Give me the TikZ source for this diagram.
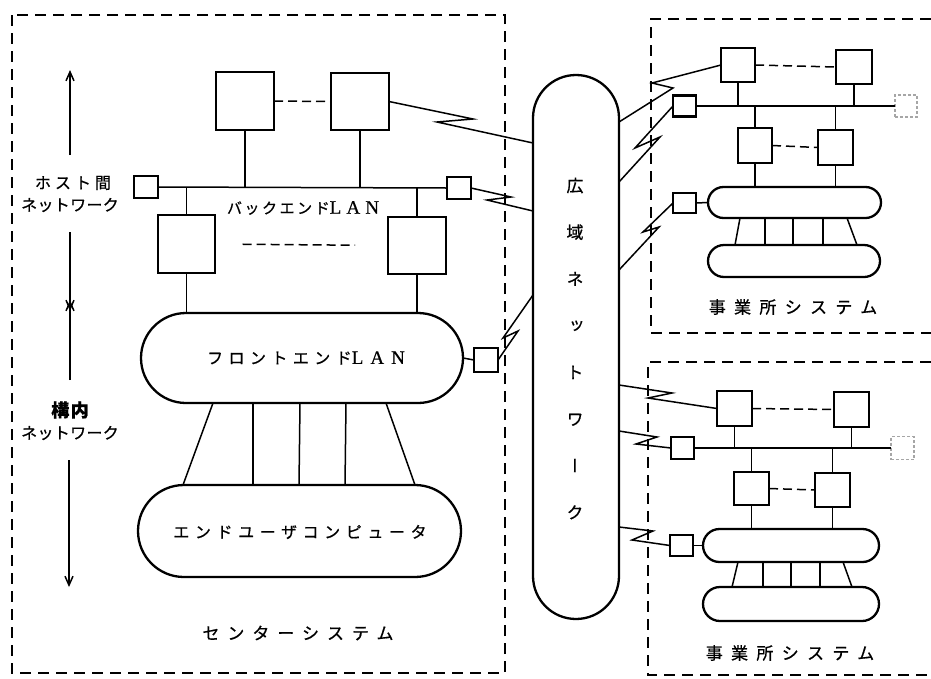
\documentclass[tikz,border=0pt]{standalone}
\usepackage{fontspec}
\usetikzlibrary{arrows.meta,calc}
\newfontfamily\jp[FakeBold=0.7]{Noto Sans CJK JP}
\newfontfamily\jpv[RawFeature=+vert,FakeBold=0.7]{Noto Sans CJK JP}
\newfontfamily\lat[FakeBold=0.5]{Liberation Serif}
\newcommand\lanword[2]{{\lat\fontsize{#1}{#1}\selectfont\addfontfeatures{LetterSpace=#2}LAN}}
\tikzset{
  sysbox/.style={line width=1.6pt, dash pattern=on 11pt off 7pt},
  bx/.style={draw, line width=2.3pt, inner sep=0pt, outer sep=0pt},
  sbx/.style={draw, line width=2.1pt, inner sep=0pt, outer sep=0pt},
  fbx/.style={draw=gray!70, line width=1.2pt, densely dashed, inner sep=0pt, outer sep=0pt},
  pill/.style={draw, line width=2.3pt, inner sep=0pt, outer sep=0pt, rounded corners=#1},
  ln/.style={line width=1.5pt},
  zig/.style={line width=1.5pt, line join=miter},
  dl/.style={line width=1.5pt, dash pattern=on 9pt off 5pt},
  arr/.style={line width=1.5pt, -{Straight Barb[length=9pt,width=8pt]}},
  lbl/.style={inner sep=0pt, font=\jp\fontsize{#1}{#1}\selectfont}
}
\begin{document}
\begin{tikzpicture}[x=1pt,y=-1pt]
\useasboundingbox (0,0) rectangle (931,678);

% system frames
\draw[sysbox] (12,15) rectangle (505,673);
\draw[sysbox] (931,19) -- (651,19) -- (651,333) -- (931,333);
\draw[sysbox] (931,362) -- (648,362) -- (648,675) -- (931,675);

% ---------- centre system ----------
\node[bx, minimum width=58pt, minimum height=58pt] (h1) at (245,101) {};
\node[bx, minimum width=58pt, minimum height=57pt] (h2) at (360,101.5) {};
\node[bx, minimum width=57pt, minimum height=58pt] (h3) at (186.5,244) {};
\node[bx, minimum width=58pt, minimum height=57pt] (h4) at (417,245.5) {};
\node[sbx, minimum width=24pt, minimum height=22pt] (sbL) at (146,187) {};
\node[sbx, minimum width=24pt, minimum height=22pt] (sbR) at (459,188) {};
\node[pill=45pt, minimum width=322pt, minimum height=90pt] (fe) at (302,358) {};
\node[pill=46pt, minimum width=323pt, minimum height=92pt] (eu) at (299.5,531) {};
\node[sbx, minimum width=24pt, minimum height=24pt] (sbF) at (486,360) {};

\draw[ln] (sbL.east) -- (sbR.west);
\draw[ln] (h1.south) -- (h1.south |- sbL.east);
\draw[ln] (h2.south) -- (h2.south |- sbL.east);
\draw[ln] (h3.north) -- (h3.north |- sbL.east);
\draw[ln] (h4.north) -- (h4.north |- sbL.east);
\draw[ln] (h3.south) -- (h3.south |- fe.north);
\draw[ln] (h4.south) -- (h4.south |- fe.north);
\draw[dl] (h1.east) -- (h2.west);
\draw[dl] ($(h3.east)!0.16!(h4.west)$) -- ($(h3.east)!0.81!(h4.west)$);
\draw[ln] (fe.east) -- (sbF.west);

\draw[ln] ([xshift=-89pt]fe.south) -- ([xshift=-116.5pt]eu.north);
\draw[ln] ([xshift=-49pt]fe.south) -- ([xshift=-46.5pt]eu.north);
\draw[ln] ([xshift=-2pt]fe.south) -- ([xshift=-0.5pt]eu.north);
\draw[ln] ([xshift=44pt]fe.south) -- ([xshift=45.5pt]eu.north);
\draw[ln] ([xshift=84pt]fe.south) -- ([xshift=115.5pt]eu.north);

\node[lbl=15] (tBack) at (303,208) {\addfontfeatures{LetterSpace=17}バックエンド\lanword{19}{27}};
\node[lbl=16] (tFront) at (306,358) {\addfontfeatures{LetterSpace=34}フロントエンド\lanword{19}{37}};
\node[lbl=16] (tEU) at (300,532) {\addfontfeatures{LetterSpace=35}エンドユーザコンピュータ};
\node[lbl=17] (tCen) at (298,633) {\addfontfeatures{LetterSpace=47}センターシステム};

% left arrows and labels
\node[lbl=16] (tHost1) at (73,183) {\addfontfeatures{LetterSpace=25}ホスト間};
\node[lbl=16] (tHost2) at (70,205) {\addfontfeatures{LetterSpace=2}ネットワーク};
\node[lbl=18] (tCamp1) at (70,410) {\bfseries\addfontfeatures{LetterSpace=8}構内};
\node[lbl=16] (tCamp2) at (70,433) {\addfontfeatures{LetterSpace=2}ネットワーク};
\coordinate (a1s) at (70,155); \coordinate (a1e) at (70,70);
\coordinate (a2s) at (70,232); \coordinate (a2e) at (70,311);
\coordinate (a3s) at (70,380); \coordinate (a3e) at (70,300);
\coordinate (a4s) at (69,460); \coordinate (a4e) at (69,587);
\draw[arr] (a1s) -- (a1e);
\draw[arr] (a2s) -- (a2e);
\draw[arr] (a3s) -- (a3e);
\draw[arr] (a4s) -- (a4e);

% ---------- wide area network ----------
\node[pill=43pt, minimum width=86pt, minimum height=544pt] (wan) at (576,347) {};
\node[inner sep=0pt, align=center, font=\jpv\fontsize{17}{46.7}\selectfont] (wantxt) at (575,348.5)
  {広\\域\\ネ\\ッ\\ト\\ワ\\ー\\ク};

% ---------- upper office system ----------
\node[bx, minimum width=34pt, minimum height=34pt] (rA) at (738,65) {};
\node[bx, minimum width=36pt, minimum height=34pt] (rB) at (854,67) {};
\node[bx, minimum width=34pt, minimum height=35pt] (rC) at (755,145.5) {};
\node[bx, minimum width=35pt, minimum height=35pt] (rD) at (835.5,147.5) {};
\node[sbx, minimum width=23pt, minimum height=21pt] (rsL) at (684.5,106) {};
\node[fbx, minimum width=22pt, minimum height=22pt] (rsR) at (906,106) {};
\node[pill=15.5pt, minimum width=173pt, minimum height=31pt] (rp1) at (794.5,202.5) {};
\node[pill=16pt, minimum width=172pt, minimum height=32pt] (rp2) at (794,261) {};
\node[sbx, minimum width=23pt, minimum height=20pt] (rsP) at (684.5,203) {};

\draw[ln] (rsL.east) -- (rsR.west);
\draw[ln] (rA.south) -- (rA.south |- rsL.east);
\draw[ln] (rB.south) -- (rB.south |- rsL.east);
\draw[ln] (rC.north) -- (rC.north |- rsL.east);
\draw[ln] (rD.north) -- (rD.north |- rsL.east);
\draw[ln] (rC.south) -- (rC.south |- rp1.north);
\draw[ln] (rD.south) -- (rD.south |- rp1.north);
\draw[dl] (rA.east) -- (rB.west);
\draw[dl] (rC.east) -- (rD.west);
\draw[ln] (rsP.east) -- (rp1.west);
\draw[ln] ([xshift=-54.5pt]rp1.south) -- ([xshift=-59pt]rp2.north);
\draw[ln] ([xshift=-29.5pt]rp1.south) -- ([xshift=-29pt]rp2.north);
\draw[ln] ([xshift=-1.5pt]rp1.south) -- ([xshift=-1pt]rp2.north);
\draw[ln] ([xshift=28.5pt]rp1.south) -- ([xshift=29pt]rp2.north);
\draw[ln] ([xshift=52.5pt]rp1.south) -- ([xshift=63pt]rp2.north);
\node[lbl=17] (tOff1) at (793,307) {\addfontfeatures{LetterSpace=49}事業所システム};

% ---------- lower office system ----------
\node[bx, minimum width=35pt, minimum height=35pt] (sA) at (734.5,408.5) {};
\node[bx, minimum width=35pt, minimum height=35pt] (sB) at (851.5,409.5) {};
\node[bx, minimum width=35pt, minimum height=33pt] (sC) at (751.5,488.5) {};
\node[bx, minimum width=35pt, minimum height=34pt] (sD) at (832.5,490) {};
\node[sbx, minimum width=23pt, minimum height=22pt] (ssL) at (682.5,448) {};
\node[fbx, minimum width=23pt, minimum height=23pt] (ssR) at (902.5,448) {};
\node[pill=16.5pt, minimum width=176pt, minimum height=33pt] (sp1) at (791,545.5) {};
\node[pill=17pt, minimum width=176pt, minimum height=34pt] (sp2) at (791,604) {};
\node[sbx, minimum width=23pt, minimum height=21pt] (ssP) at (681.5,545.5) {};

\draw[ln] (ssL.east) -- (ssR.west);
\draw[ln] (sA.south) -- (sA.south |- ssL.east);
\draw[ln] (sB.south) -- (sB.south |- ssL.east);
\draw[ln] (sC.north) -- (sC.north |- ssL.east);
\draw[ln] (sD.north) -- (sD.north |- ssL.east);
\draw[ln] (sC.south) -- (sC.south |- sp1.north);
\draw[ln] (sD.south) -- (sD.south |- sp1.north);
\draw[dl] (sA.east) -- (sB.west);
\draw[dl] (sC.east) -- (sD.west);
\draw[ln] (ssP.east) -- (sp1.west);
\draw[ln] ([xshift=-53pt]sp1.south) -- ([xshift=-59pt]sp2.north);
\draw[ln] ([xshift=-28pt]sp1.south) -- ([xshift=-28pt]sp2.north);
\draw[ln] (sp1.south) -- (sp2.north);
\draw[ln] ([xshift=29pt]sp1.south) -- ([xshift=29pt]sp2.north);
\draw[ln] ([xshift=52pt]sp1.south) -- ([xshift=61pt]sp2.north);
\node[lbl=17] (tOff2) at (790,653) {\addfontfeatures{LetterSpace=49}事業所システム};

% ---------- lightning links ----------
\draw[zig] (h2.east) -- (473,119) -- (437,122) -- (wan.west |- 0,143);
\draw[zig] (sbR.east) -- (511,197) -- (487,200) -- (wan.west |- 0,211);
\draw[zig] (wan.west |- 0,295) -- (503,338) -- (518,331) -- (sbF.east);
\draw[zig] (rA.west) -- (652,83) -- (673,88) -- (wan.east |- 0,122);
\draw[zig] (rsL.west) -- (635,148) -- (660,137) -- (wan.east |- 0,182);
\draw[zig] (rsP.west) -- (643,232) -- (659,227) -- (wan.east |- 0,270);
\draw[zig] (wan.east |- 0,385) -- (672,393) -- (648,398) -- (sA.west);
\draw[zig] (wan.east |- 0,431) -- (657,437) -- (636,444) -- (ssL.west);
\draw[zig] (wan.east |- 0,527) -- (653,531) -- (632,540) -- (ssP.west);
\end{tikzpicture}
\end{document}
